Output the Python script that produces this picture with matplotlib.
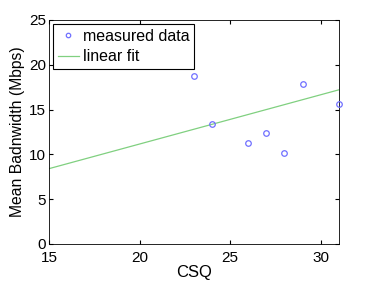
import matplotlib
matplotlib.use("Agg")
import matplotlib.pyplot as plt

# measured points
csq = [23, 24, 26, 27, 28, 29, 31]
bandwidth = [18.7, 13.4, 11.3, 12.4, 10.1, 17.9, 15.6]

# linear fit endpoints
fit_x = [15, 31]
fit_y = [8.4, 17.2]

plt.rcParams['font.family'] = ['Liberation Sans', 'DejaVu Sans']

fig = plt.figure(figsize=(3.74, 2.81), dpi=100)
ax = fig.add_axes([0.131, 0.132, 0.775, 0.797])

ax.plot(csq, bandwidth, 'o', markersize=4, markerfacecolor='none',
        markeredgecolor='#7070ff', markeredgewidth=0.9, label='measured data',
        clip_on=False, zorder=3)
ax.plot(fit_x, fit_y, '-', color='#80d080', linewidth=0.9, label='linear fit')

ax.set_xlim(15, 31)
ax.set_ylim(0, 25)
ax.set_xticks([15, 20, 25, 30])
ax.set_yticks([0, 5, 10, 15, 20, 25])
ax.tick_params(direction='in', top=True, right=True, labelsize=11, length=3)
ax.tick_params(axis='x', pad=5)
ax.tick_params(axis='y', pad=2)
for s in ax.spines.values():
    s.set_linewidth(0.6)

ax.set_xlabel('CSQ', fontsize=12, labelpad=0)
ax.set_ylabel('Mean Badnwidth (Mbps)', fontsize=11.3, labelpad=3)

leg = ax.legend(loc='upper left', fontsize=11.5, frameon=True, fancybox=False,
                borderpad=0.3, labelspacing=0.35, handlelength=1.3,
                handletextpad=0.25, borderaxespad=0.25, markerscale=0.8)
leg.get_frame().set_edgecolor('black')
leg.get_frame().set_linewidth(0.8)
leg.get_frame().set_alpha(1)

fig.savefig('out.png', dpi=100)
